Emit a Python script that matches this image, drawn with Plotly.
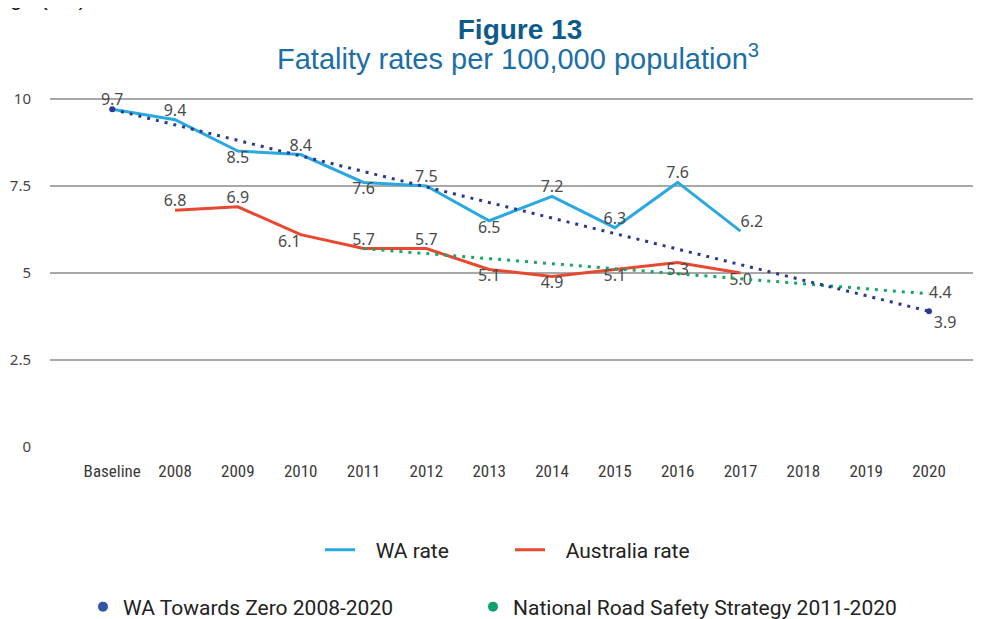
import plotly.graph_objects as go

# categories along the x axis
years = ["Baseline", "2008", "2009", "2010", "2011", "2012", "2013",
         "2014", "2015", "2016", "2017", "2018", "2019", "2020"]

# fatality rates per 100,000 population
wa_years = years[:11]
wa_rate = [9.7, 9.4, 8.5, 8.4, 7.6, 7.5, 6.5, 7.2, 6.3, 7.6, 6.2]

aus_years = years[1:11]
aus_rate = [6.8, 6.9, 6.1, 5.7, 5.7, 5.1, 4.9, 5.1, 5.3, 5.0]

# targets (straight lines between start and end points)
tz_years = ["Baseline", "2020"]
tz_rate = [9.7, 3.9]

nrss_years = ["2011", "2020"]
nrss_rate = [5.7, 4.4]

y_ticks = [0, 2.5, 5, 7.5, 10]
y_ticktext = ["0", "2.5", "5", "7.5", "10"]

WA_BLUE = "#2aa9e0"
AUS_RED = "#e8482f"
TZ_NAVY = "#2b3a8f"
NRSS_GREEN = "#1aa566"
LABEL_GREY = "#4a4a4a"
LABEL_FONT = dict(family="Noto Sans, Open Sans, sans-serif", size=16, color=LABEL_GREY)
LEGEND_FONT = dict(family="Liberation Sans Narrow, Roboto, sans-serif", size=21, color="#222222")
SP = "&nbsp;&nbsp;&nbsp;"

# the page body has an 8px margin, so the figure is drawn 8px smaller
OFF = 8
W, H = 981 - OFF, 619 - OFF
L, R, T, B = 50 - OFF, 3, 78 - OFF, 619 - 447
PW, PH = W - L - R, H - T - B

wa_pos = ["top center", "top center", "bottom center", "top center", "bottom center",
          "top center", "bottom center", "top center", "top center", "top center", "top right"]
aus_pos = ["top center", "top center", "bottom left", "top center", "top center",
           "bottom center", "bottom center", "bottom center", "bottom center", "bottom center"]

fig = go.Figure()

fig.add_trace(go.Scatter(
    x=wa_years, y=wa_rate, mode="lines+text", name=SP + "WA rate",
    line=dict(color=WA_BLUE, width=3),
    text=[f"{v:.1f}" for v in wa_rate], textposition=wa_pos, textfont=LABEL_FONT,
    legend="legend", cliponaxis=False,
))
fig.add_trace(go.Scatter(
    x=aus_years, y=aus_rate, mode="lines+text", name=SP + "Australia rate",
    line=dict(color=AUS_RED, width=3),
    text=[f"{v:.1f}" for v in aus_rate], textposition=aus_pos, textfont=LABEL_FONT,
    legend="legend2", cliponaxis=False,
))
fig.add_trace(go.Scatter(
    x=nrss_years, y=nrss_rate, mode="lines+text", name="National Road Safety Strategy 2011-2020",
    line=dict(color=NRSS_GREEN, width=3, dash="3px,6px"),
    text=["", f"{nrss_rate[-1]:.1f}"], textposition=["top center", "middle right"],
    textfont=LABEL_FONT, showlegend=False, cliponaxis=False,
))
fig.add_trace(go.Scatter(
    x=tz_years, y=tz_rate, mode="lines+markers+text", name="WA Towards Zero 2008-2020",
    line=dict(color=TZ_NAVY, width=3, dash="3px,6px"),
    marker=dict(color=TZ_NAVY, size=6),
    text=["", f"{tz_rate[-1]:.1f}"], textposition=["top center", "bottom right"],
    textfont=LABEL_FONT, showlegend=False, cliponaxis=False,
))

# legend-only dots for the target lines
fig.add_trace(go.Scatter(
    x=[None], y=[None], mode="markers", name="WA Towards Zero 2008-2020",
    marker=dict(color="#2f55a4", size=10), legend="legend3",
))
fig.add_trace(go.Scatter(
    x=[None], y=[None], mode="markers", name="National Road Safety Strategy 2011-2020",
    marker=dict(color="#12a06a", size=10), legend="legend4",
))


def legend_at(sx, sy):
    # legend box placed from screen pixels
    return dict(orientation="h", xref="container", yref="container",
                x=(sx - OFF) / W, xanchor="left", y=1 - (sy - OFF) / H, yanchor="middle",
                font=LEGEND_FONT, bgcolor="rgba(0,0,0,0)")


fig.update_layout(
    width=W, height=H,
    margin=dict(l=L, r=R, t=T, b=B, autoexpand=False),
    paper_bgcolor="white", plot_bgcolor="white",
    title=dict(text="<b>Figure 13</b>", x=(520 - OFF) / W, xanchor="center",
               y=1 - (29 - OFF) / H, yanchor="middle",
               font=dict(family="Liberation Sans, Arial, sans-serif", size=28, color="#0d5b8c")),
    xaxis=dict(
        type="category", categoryorder="array", categoryarray=years,
        range=[-0.99, 13.78], showgrid=False, zeroline=False, showline=False,
        ticks="", ticklabelstandoff=12,
        tickfont=dict(family="Liberation Sans Narrow, Roboto Condensed, Roboto, sans-serif",
                      size=17, color="#3a3a3a"),
    ),
    yaxis=dict(
        range=[0, 10.6], tickvals=y_ticks, ticktext=y_ticktext,
        showgrid=True, gridcolor="#a8a8a8", gridwidth=2,
        zeroline=False, showline=False, ticks="", ticklabelstandoff=18,
        tickfont=dict(family="Noto Sans, Open Sans, sans-serif", size=15, color="#444444"),
    ),
    legend=legend_at(320, 550),
    legend2=legend_at(510, 550),
    legend3=legend_at(83, 607),
    legend4=legend_at(473, 607),
    annotations=[
        dict(text="Fatality rates per 100,000 population<sup>3</sup>",
             xref="paper", yref="paper", x=(518 - OFF - L) / PW, y=1 + (T - (57 - OFF)) / PH,
             xanchor="center", yanchor="middle", showarrow=False,
             font=dict(family="Liberation Sans, Arial, sans-serif", size=29, color="#1b6ea6")),
        dict(text="ge (3.3).", xref="paper", yref="paper",
             x=-L / PW, y=1 + (T - 4) / PH, xanchor="left", yanchor="bottom",
             showarrow=False,
             font=dict(family="Liberation Sans, Arial, sans-serif", size=22, color="#111111")),
    ],
)

fig.write_html("out.html")
